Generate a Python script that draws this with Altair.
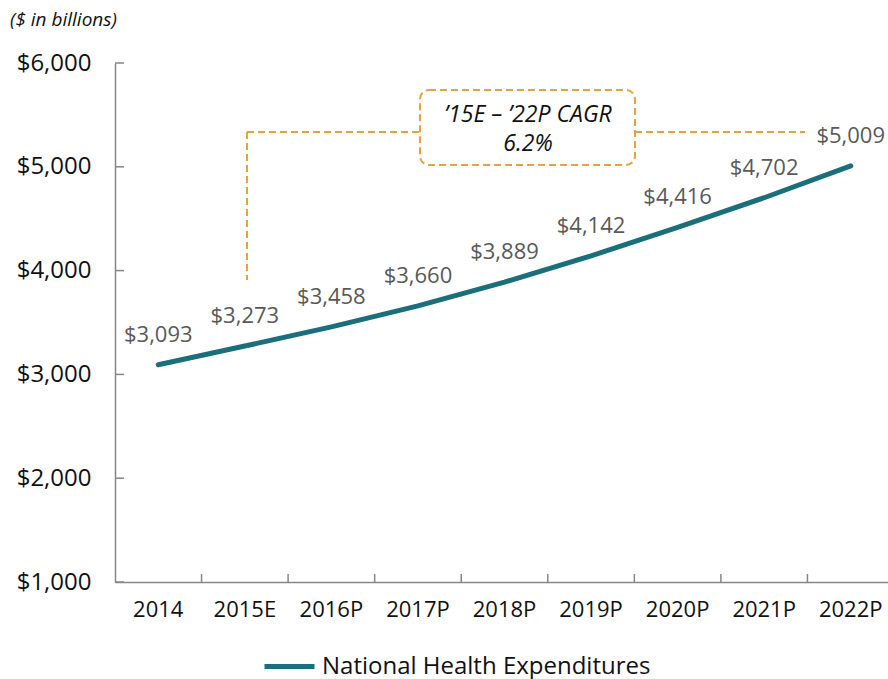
import altair as alt
import pandas as pd

# ---- data ----
years = ["2014", "2015E", "2016P", "2017P", "2018P", "2019P", "2020P", "2021P", "2022P"]
values = [3093, 3273, 3458, 3660, 3889, 4142, 4416, 4702, 5009]
y_ticks = [1000, 2000, 3000, 4000, 5000, 6000]
series_name = "National Health Expenditures"
cagr_text = ["\u201915E \u2013 \u201922P CAGR", "6.2%"]
unit_title = "($ in billions)"

# ---- style ----
FONT = "Open Sans"
TEAL = "#1b6f7b"
ORANGE = "#E9A03F"
GRAY = "#868686"
LABEL_GRAY = "#595959"
W, H = 773, 519

df = pd.DataFrame({"year": years, "value": values, "series": [series_name] * len(years)})

x_enc = alt.X(
    "year:N", sort=years, title=None,
    scale=alt.Scale(range=[0, 779]),
    axis=alt.Axis(ticks=False, labelAngle=0, labelFontSize=22, labelFont=FONT,
                  labelColor="#111111", labelPadding=17, domainColor=GRAY, domainWidth=1.5),
)
y_enc = alt.Y(
    "value:Q", title=None,
    scale=alt.Scale(domain=[1000, 6000], nice=False),
    axis=alt.Axis(values=y_ticks, format="$,.0f", ticks=False, grid=False,
                  labelFontSize=24, labelFont=FONT, labelColor="#111111",
                  labelPadding=24, domainColor=GRAY, domainWidth=1.5),
)

line = alt.Chart(df).mark_line(strokeWidth=5, strokeCap="round").encode(
    x=x_enc, y=y_enc,
    color=alt.Color("series:N", scale=alt.Scale(domain=[series_name], range=[TEAL]),
                    legend=alt.Legend(title=None, orient="none", legendX=147, legendY=576,
                                      symbolType="stroke", symbolSize=2500, symbolStrokeWidth=5,
                                      labelFontSize=24, labelFont=FONT, labelColor="#111111",
                                      labelOffset=5, labelLimit=500)),
)

labels = alt.Chart(df).mark_text(dy=-30, fontSize=22, font=FONT, color=LABEL_GRAY).encode(
    x=alt.X("year:N", sort=years), y="value:Q",
    text=alt.Text("value:Q", format="$,.0f"),
)

ytick_layer = alt.Chart(pd.DataFrame({"value": y_ticks})).mark_rule(color=GRAY, strokeWidth=1.5).encode(
    y="value:Q", x=alt.value(0), x2=alt.value(9),
)

xtick_layer = alt.Chart(pd.DataFrame({"year": years[1:]})).mark_rule(color=GRAY, strokeWidth=1.5).encode(
    x=alt.X("year:N", sort=years, bandPosition=0), y=alt.value(H - 8), y2=alt.value(H),
)

dummy = pd.DataFrame({"a": [0]})
dash = [7, 4]
ann_v = alt.Chart(dummy).mark_rule(color=ORANGE, strokeWidth=2, strokeDash=dash).encode(
    x=alt.value(132), y=alt.value(69), y2=alt.value(217),
)
ann_h1 = alt.Chart(dummy).mark_rule(color=ORANGE, strokeWidth=2, strokeDash=dash).encode(
    x=alt.value(132), x2=alt.value(305), y=alt.value(69),
)
ann_h2 = alt.Chart(dummy).mark_rule(color=ORANGE, strokeWidth=2, strokeDash=dash).encode(
    x=alt.value(520), x2=alt.value(690), y=alt.value(69),
)
ann_box = alt.Chart(dummy).mark_rect(fill="white", stroke=ORANGE, strokeWidth=2,
                                     strokeDash=dash, cornerRadius=9).encode(
    x=alt.value(305), x2=alt.value(520), y=alt.value(27), y2=alt.value(102),
)
ann_text = alt.Chart(dummy).mark_text(fontSize=23, font=FONT, fontStyle="italic",
                                      color="#111111", lineHeight=29, baseline="middle").encode(
    x=alt.value(413), y=alt.value(52), text=alt.value(cagr_text),
)

chart = alt.layer(
    ann_v, ann_h1, ann_h2, ann_box, ann_text,
    line, labels, ytick_layer, xtick_layer,
).properties(
    width=W, height=H,
    title=alt.Title(unit_title, anchor="start", frame="group", dx=-105, offset=21,
                    fontSize=19, font=FONT, fontStyle="italic", fontWeight="normal",
                    color="#111111"),
    autosize=alt.AutoSizeParams(type="none"),
    padding={"left": 115, "top": 63, "right": 0, "bottom": 97},
).configure_view(stroke=None)

chart.save("out.html", embed_options={"renderer": "svg", "actions": False})
